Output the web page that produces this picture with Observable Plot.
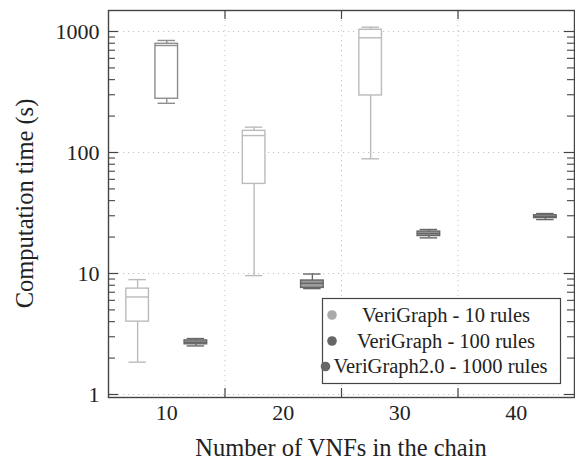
<!DOCTYPE html>
<html><head><meta charset="utf-8">
<script src="https://cdn.jsdelivr.net/npm/d3@7"></script>
<script src="https://cdn.jsdelivr.net/npm/@observablehq/plot@0.6"></script>
<style>body{margin:0;background:#fff} #chart{width:575px;height:462px}</style>
</head><body><div id="chart"></div>
<script>
// ---- data ----
const categories = [10, 20, 30, 40];
const seriesNames = ["VeriGraph - 10 rules", "VeriGraph - 100 rules", "VeriGraph2.0 - 1000 rules"];
// [min, q1, median, q3, max] for each category; null = no box
const verigraph10 = [[1.85, 4.0, 6.4, 7.5, 8.9], [9.6, 55, 138, 151, 162], [88.7, 296, 887, 1033, 1086], null];
const verigraph100 = [[255, 278, 766, 791, 843], null, null, null];
const verigraph20 = [[2.52, 2.6, 2.7, 2.8, 2.9], [7.5, 7.6, 8.3, 8.75, 9.9], [19.7, 20.4, 21.4, 22.2, 23.1], [27.9, 28.7, 29.5, 30.3, 31.3]];
const yTickValues = [1, 10, 100, 1000];
const xTickValues = [10, 20, 30, 40];
const xBoundaries = [15, 25, 35];
const xLabel = "Number of VNFs in the chain";
const yLabel = "Computation time (s)";

// ---- layout / style ----
const W = 575, H = 462, mL = 108, mR = 1, mT = 10, mB = 65;
const xDomain = [5, 45];
const yDomain = [0.9445, 1491];
const pxPerX = (W - mL - mR) / (xDomain[1] - xDomain[0]);
const pxPerDec = (H - mT - mB) / Math.log10(yDomain[1] / yDomain[0]);
const OFF = 2.5, HALF = 0.97, CAP = 0.75;
const styles = [
  {stroke: "#bbbbbb", fill: "white", dot: "#aaaaaa"},
  {stroke: "#8e8e8e", fill: "white", dot: "#666666"},
  {stroke: "#666666", fill: "#9c9c9c", dot: "#666666"}
];
const allSeries = [verigraph10, verigraph100, verigraph20];
const rows = [];
allSeries.forEach((arr, i) => arr.forEach((s, j) => {
  if (s) rows.push({series: i, cat: categories[j], min: s[0], q1: s[1], med: s[2], q3: s[3], max: s[4]});
}));
const cx = d => d.cat + (d.series - 1) * OFF;

const minor = [];
for (const dec of [1, 10, 100]) for (let k = 2; k <= 9; k++) minor.push(dec * k);
const tickX = n => n / pxPerX;
const tickYf = n => Math.pow(10, n / pxPerDec);

const boxMarks = [];
styles.forEach((st, i) => {
  const r = rows.filter(d => d.series === i);
  const sw = 1.4;
  boxMarks.push(
    Plot.ruleX(r, {x: cx, y1: "min", y2: "q1", stroke: st.stroke, strokeWidth: sw}),
    Plot.ruleX(r, {x: cx, y1: "q3", y2: "max", stroke: st.stroke, strokeWidth: sw}),
    Plot.ruleY(r, {y: "min", x1: d => cx(d) - CAP, x2: d => cx(d) + CAP, stroke: st.stroke, strokeWidth: sw}),
    Plot.ruleY(r, {y: "max", x1: d => cx(d) - CAP, x2: d => cx(d) + CAP, stroke: st.stroke, strokeWidth: sw}),
    Plot.rect(r, {x1: d => cx(d) - HALF, x2: d => cx(d) + HALF, y1: "q1", y2: "q3", fill: st.fill, stroke: st.stroke, strokeWidth: sw}),
    Plot.ruleY(r, {y: "med", x1: d => cx(d) - HALF, x2: d => cx(d) + HALF, stroke: st.stroke, strokeWidth: sw})
  );
});

const grid = {stroke: "#c4c4c4", strokeWidth: 1, strokeDasharray: "1.2,3.8"};
const axisCol = "#444";

const svg = Plot.plot({
  width: W, height: H,
  marginLeft: mL, marginRight: mR, marginTop: mT, marginBottom: mB,
  style: {fontFamily: "Liberation Serif, Times New Roman, serif", fontSize: "22px", color: "#222", background: "white"},
  x: {domain: xDomain, ticks: xTickValues, tickFormat: d => String(d), tickSize: 0, tickPadding: 7, label: null},
  y: {type: "log", domain: yDomain, ticks: yTickValues, tickFormat: d => String(d), tickSize: 0, tickPadding: 9, label: null},
  marks: [
    Plot.ruleY(yTickValues, {...grid}),
    Plot.ruleX(xBoundaries, {...grid}),
    // y ticks, left and right, inward
    Plot.ruleY(yTickValues, {x1: xDomain[0], x2: xDomain[0] + tickX(10), stroke: axisCol, strokeWidth: 1.2}),
    Plot.ruleY(yTickValues, {x1: xDomain[1] - tickX(10), x2: xDomain[1], stroke: axisCol, strokeWidth: 1.2}),
    Plot.ruleY(minor, {x1: xDomain[0], x2: xDomain[0] + tickX(7), stroke: axisCol, strokeWidth: 1.1}),
    Plot.ruleY(minor, {x1: xDomain[1] - tickX(7), x2: xDomain[1], stroke: axisCol, strokeWidth: 1.1}),
    // x ticks bottom and top, inward
    Plot.ruleX(xBoundaries, {y1: yDomain[0], y2: yDomain[0] * tickYf(9), stroke: axisCol, strokeWidth: 1.2}),
    Plot.ruleX(xBoundaries, {y1: yDomain[1] / tickYf(9), y2: yDomain[1], stroke: axisCol, strokeWidth: 1.2}),
    ...boxMarks,
    Plot.frame({stroke: axisCol, strokeWidth: 1.4})
  ]
});

const s = d3.select(svg);
s.append("text").attr("x", (mL + W - mR) / 2).attr("y", 456).attr("text-anchor", "middle")
  .attr("font-size", 24.5).attr("fill", "#222").text(xLabel);
s.append("text").attr("transform", `translate(33,${(mT + H - mB) / 2}) rotate(-90)`).attr("text-anchor", "middle")
  .attr("font-size", 24.5).attr("fill", "#222").text(yLabel);

// legend
const lg = s.append("g");
lg.append("rect").attr("x", 322.5).attr("y", 298.5).attr("width", 238).attr("height", 85)
  .attr("fill", "white").attr("stroke", axisCol).attr("stroke-width", 1.2);
const rowY = [315, 341, 366.5];
const dotX = [332, 332, 325.5];
const textX = [446, 446, 440.5];
seriesNames.forEach((name, i) => {
  lg.append("circle").attr("cx", dotX[i]).attr("cy", rowY[i]).attr("r", 4.8).attr("fill", styles[i].dot);
  lg.append("text").attr("x", textX[i]).attr("y", rowY[i]).attr("dy", "0.33em").attr("text-anchor", "middle")
    .attr("font-size", 20.5).attr("fill", "#222").text(name);
});

document.getElementById("chart").appendChild(svg);
</script>
</body></html>
